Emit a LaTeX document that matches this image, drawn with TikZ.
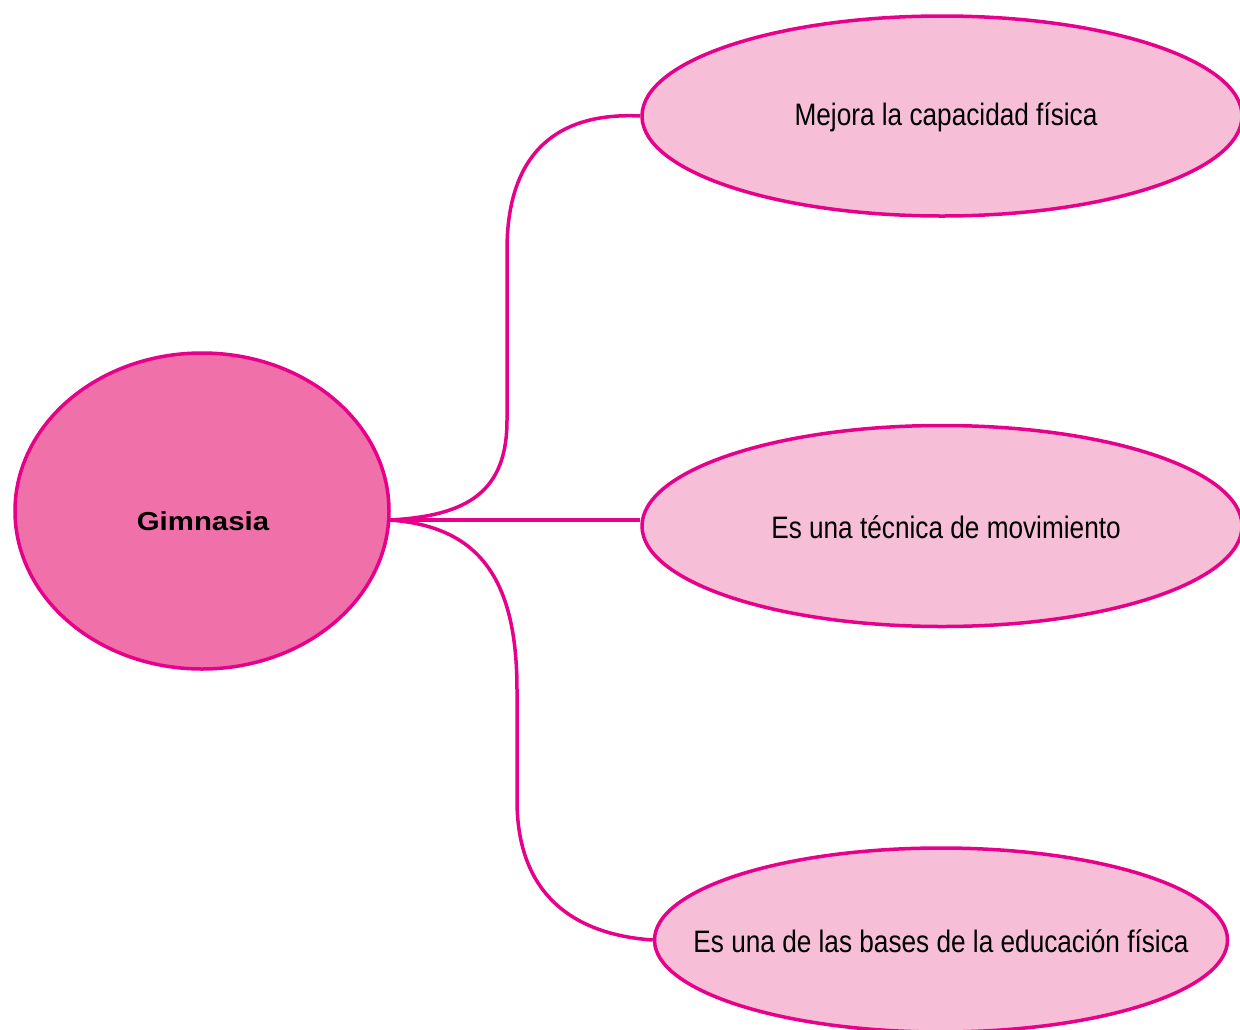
\documentclass[tikz,border=0pt]{standalone}
\usepackage{fontspec}
\setmainfont{Liberation Sans}
\newfontfamily\condfont[FakeStretch=0.845]{Liberation Sans}
\newfontfamily\boldwide[FakeStretch=1.13]{Liberation Sans Bold}
\usetikzlibrary{shapes.geometric}
\definecolor{mag}{HTML}{E6008A}
\definecolor{darkpink}{HTML}{F071AA}
\definecolor{lightpink}{HTML}{F7BED7}
\tikzset{
  bubble/.style={ellipse, draw=mag, line width=3.5pt, inner sep=0pt},
  leaf/.style={bubble, fill=lightpink},
  root/.style={bubble, fill=darkpink},
  leaftext/.style={font=\condfont\fontsize{31}{36}\selectfont, inner sep=0pt},
  roottext/.style={font=\boldwide\fontsize{26}{30}\selectfont, inner sep=0pt},
  link/.style={draw=mag, line width=3.5pt}
}
\begin{document}
\begin{tikzpicture}[x=1pt,y=-1pt]
\useasboundingbox (0,0) rectangle (1240,1029);
\clip (0,0) rectangle (1240,1029);
\node[root, minimum width=374pt, minimum height=316pt] (g) at (202,511) {};
\node[leaf, minimum width=600pt, minimum height=200pt] (t) at (942,116) {};
\node[leaf, minimum width=600pt, minimum height=201pt] (m) at (942,526) {};
\node[leaf, minimum width=573pt, minimum height=184pt] (b) at (941,940) {};
\node[roottext] (gl) at (203,521) {Gimnasia};
\node[leaftext] (tl) at (946,117) {Mejora la capacidad física};
\node[leaftext] (ml) at (946,527) {Es una técnica de movimiento};
\node[leaftext] (bl) at (941,941) {Es una de las bases de la educación física};
\coordinate (s) at (389,520);
\path[link] (s) .. controls (470,516) and (507,490) .. (507,420) -- (507,250) .. controls (507,150) and (560,112) .. (t.west);
\path[link] (s) -- (m.west |- s);
\path[link] (s) .. controls (480,526) and (517,580) .. (517,690) -- (517,800) .. controls (517,900) and (580,935) .. (b.west);
\end{tikzpicture}
\end{document}
